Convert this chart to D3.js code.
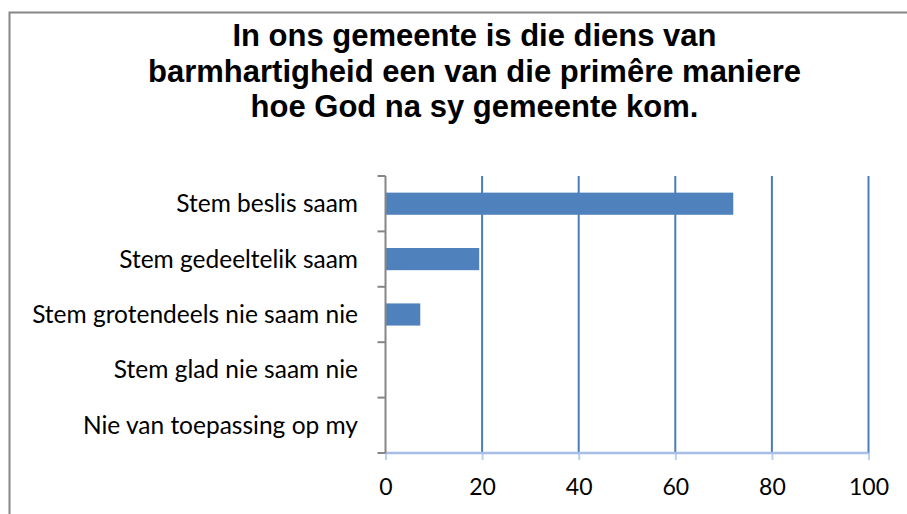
<!DOCTYPE html>
<html>
<head>
<meta charset="utf-8">
<script src="https://cdn.jsdelivr.net/npm/d3@7"></script>
<style>
  body { margin: 0; background: #fff; }
  svg { display: block; }
</style>
</head>
<body>
<script>
// chart data
var categories = ["Stem beslis saam", "Stem gedeeltelik saam", "Stem grotendeels nie saam nie",
                  "Stem glad nie saam nie", "Nie van toepassing op my"];
var values = [72, 19.4, 7.2, 0, 0];
var xTicks = [0, 20, 40, 60, 80, 100];
var titleLines = ["In ons gemeente is die diens van",
                  "barmhartigheid een van die primêre maniere",
                  "hoe God na sy gemeente kom."];

function barchart(){
  var width = 907, height = 514;
  var margin = {left: 385.5, right: 38.5, top: 176, bottom: 61};

  var svg = d3.select("body").append("svg")
    .attr("width", width)
    .attr("height", height);

  // outer chart border
  svg.append("rect")
    .attr("x", 9.5).attr("y", 12.5)
    .attr("width", 920).attr("height", 520)
    .style("fill", "none")
    .style("stroke", "#868686")
    .style("stroke-width", 2);

  svg.append("text")
    .style("font-family", "'Liberation Sans', Arial, sans-serif")
    .style("font-weight", "bold")
    .style("font-size", "31px")
    .attr("text-anchor", "middle")
    .selectAll("tspan")
    .data(titleLines)
  .enter().append("tspan")
    .attr("x", 474.5)
    .attr("y", function(d,i){ return 46 + i*35.5; })
    .text(function(d){ return d; });

  var x = d3.scaleLinear()
    .domain([0, 100])
    .range([margin.left, width - margin.right]);

  var y = d3.scaleBand()
    .domain(categories)
    .range([margin.top, height - margin.bottom])
    .paddingInner(0.6)
    .paddingOuter(0.3);

  var step = y.step();
  var bottom = height - margin.bottom;

  // vertical gridlines
  svg.selectAll(".grid")
      .data(xTicks.slice(1))
    .enter().append("line")
      .attr("class", "grid")
      .attr("x1", function(d){ return x(d); })
      .attr("x2", function(d){ return x(d); })
      .attr("y1", margin.top)
      .attr("y2", bottom)
      .style("stroke", "#4a7ebb")
      .style("stroke-width", 2);

  // bars
  svg.selectAll(".bar")
      .data(values)
    .enter().append("rect")
      .attr("class", "bar")
      .attr("x", x(0))
      .attr("y", function(d,i){ return y(categories[i]); })
      .attr("width", function(d){ return x(d) - x(0); })
      .attr("height", y.bandwidth())
      .style("fill", "#4f81bd");

  // x axis
  var xAxis = svg.append("g")
    .attr("transform", "translate(0," + bottom + ")")
    .call(d3.axisBottom(x).tickValues(xTicks).tickSize(7).tickPadding(19));
  xAxis.select(".domain").remove();
  xAxis.append("line")
    .attr("x1", x(0)).attr("x2", x(100))
    .style("stroke", "#a7bfe6").style("stroke-width", 2.5);
  xAxis.selectAll(".tick line")
    .style("stroke", "#bcd0ee").style("stroke-width", 2);
  xAxis.selectAll(".tick text")
    .style("font-family", "Lato, 'Open Sans', sans-serif")
    .style("font-size", "23px")
    .style("fill", "#000");

  // y axis (ticks between categories, like Excel)
  var bounds = d3.range(categories.length + 1).map(function(i){ return margin.top + i*step; });
  svg.append("line")
    .attr("x1", x(0)).attr("x2", x(0))
    .attr("y1", margin.top).attr("y2", bottom)
    .style("stroke", "#868686").style("stroke-width", 2);
  svg.selectAll(".ytick")
      .data(bounds)
    .enter().append("line")
      .attr("class", "ytick")
      .attr("x1", x(0) - 8).attr("x2", x(0))
      .attr("y1", function(d){ return d; })
      .attr("y2", function(d){ return d; })
      .style("stroke", "#868686").style("stroke-width", 2);

  svg.selectAll(".ylabel")
      .data(categories)
    .enter().append("text")
      .attr("class", "ylabel")
      .attr("x", 358)
      .attr("y", function(d){ return y(d) + y.bandwidth()/2; })
      .attr("dy", "0.35em")
      .attr("text-anchor", "end")
      .style("font-family", "Lato, 'Open Sans', sans-serif")
      .style("font-size", "24.5px")
      .text(function(d){ return d; });
}

window.onload = barchart;
</script>
</body>
</html>
